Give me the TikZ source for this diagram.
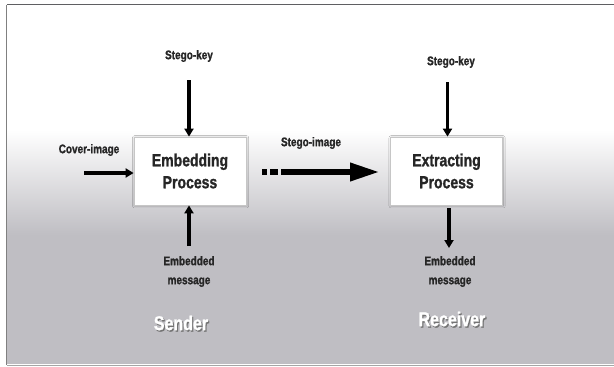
\documentclass[tikz,border=0pt]{standalone}
\usepackage{fontspec}
\setmainfont{Liberation Sans}[FakeStretch=0.80,BoldFeatures={FakeBold=1.2}]
\usetikzlibrary{arrows.meta,shadows.blur}
\definecolor{bggray}{RGB}{191,190,195}
\definecolor{framegray}{RGB}{95,95,98}
\tikzset{
  px/.style={x=1pt,y=-1pt},
  procbox/.style={draw=gray!45,line width=0.8pt,fill=white,minimum width=112pt,minimum height=68pt,
    inner sep=0pt,align=center,font=\bfseries\fontsize{17.5}{22}\selectfont,text=black!85,
    blur shadow={shadow xshift=0.6pt,shadow yshift=-0.8pt,shadow blur steps=6,shadow opacity=35}},
  lbl/.style={align=center,font=\bfseries\fontsize{12.5}{19}\selectfont,text=black!85},
  role/.style={text=white,font=\bfseries\fontsize{20}{22}\selectfont},
  roleshade/.style={text=black!55,font=\bfseries\fontsize{20}{22}\selectfont},
  thinarrow/.style={line width=3.4pt,-{Triangle[length=8pt,width=9pt]}},
  fatarrow/.style={line width=6.5pt,-{Triangle[length=30pt,width=17pt]}},
}
\begin{document}
\begin{tikzpicture}[px]
\useasboundingbox (0,0) rectangle (614,367);
% backdrop: white top fading to gray
\fill[white] (0,0) rectangle (614,367);
\fill[white] (7,5) rectangle (614,130);
\shade[top color=white,bottom color=bggray] (7,130) rectangle (614,235);
\fill[bggray] (7,235) rectangle (614,364);
% frame
\draw[framegray,line width=1.6pt] (7,4.5) -- (614,4.5);
\draw[gray,line width=1.4pt] (6.5,4.5) -- (6.5,365);
\draw[gray!70,line width=1pt] (6.5,365) -- (614,365);

% process boxes
\node[procbox] (emb) at (190,171) {Embedding\\Process};
\node[procbox] (ext) at (446.5,171) {Extracting\\Process};

% labels
\node[lbl] (keyS) at (189,56) {Stego-key};
\node[lbl] (keyR) at (451,62) {Stego-key};
\node[lbl] (cover) at (89,150) {Cover-image};
\node[lbl] (stimg) at (311,143) {Stego-image};
\node[lbl] (msgS) at (189,271.5) {Embedded\\message};
\node[lbl] (msgR) at (450,271.5) {Embedded\\message};
% role captions with a soft dark drop shadow
\node[roleshade] (senderS) at (182.2,324.4) {Sender};
\node[roleshade] (receiverS) at (453.2,320.4) {Receiver};
\node[role] (sender) at (181,323) {Sender};
\node[role] (receiver) at (452,319) {Receiver};

% anchor points for arrow tails and tips
\coordinate (keySa) at (189,80);
\coordinate (keyRa) at (447.5,82);
\coordinate (covera) at (84,173);
\coordinate (msgSa) at (189,246);
\coordinate (msgRa) at (449,248);
\coordinate (stA) at (281,172);
\coordinate (stB) at (380,172);
\coordinate (dotA) at (262,172);
\coordinate (dotB) at (266.5,172);
\coordinate (dotC) at (270,172);
\coordinate (dotD) at (278,172);

% connectors
\draw[thinarrow] (keySa) -- (keySa |- emb.north);
\draw[thinarrow] (keyRa) -- (keyRa |- ext.north);
\draw[thinarrow] (covera) -- (covera -| emb.west);
\draw[thinarrow] (msgSa) -- (msgSa |- emb.south);
\draw[thinarrow] (msgRa |- ext.south) ++(0,3) -- (msgRa);
\draw[line width=6.5pt] (dotA) -- (dotB) (dotC) -- (dotD);
\draw[fatarrow] (stA) -- (stB);
\end{tikzpicture}
\end{document}
